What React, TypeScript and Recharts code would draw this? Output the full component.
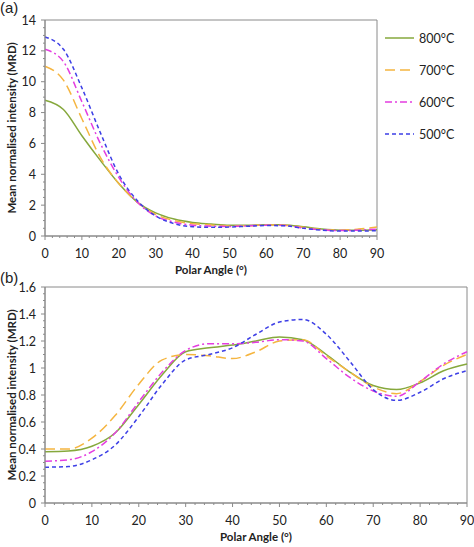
import { LineChart, Line, XAxis, YAxis, Legend, ReferenceArea } from "recharts";

const angles = [0, 5, 10, 15, 20, 25, 30, 35, 40, 45, 50, 55, 60, 65, 70, 75, 80, 85, 90];

// (a) mean normalised intensity, MRD
const a800 = [8.8, 8.2, 6.5, 4.9, 3.4, 2.2, 1.5, 1.1, 0.88, 0.78, 0.7, 0.7, 0.73, 0.72, 0.6, 0.46, 0.38, 0.37, 0.4];
const a700 = [11.0, 10.1, 7.6, 5.1, 3.4, 2.2, 1.4, 1.0, 0.8, 0.72, 0.65, 0.66, 0.72, 0.7, 0.56, 0.42, 0.38, 0.45, 0.58];
const a600 = [12.1, 11.3, 8.7, 6.0, 3.8, 2.2, 1.3, 0.9, 0.7, 0.64, 0.62, 0.66, 0.7, 0.68, 0.52, 0.4, 0.35, 0.38, 0.45];
const a500 = [12.9, 12.1, 9.6, 6.7, 4.0, 2.3, 1.3, 0.8, 0.6, 0.56, 0.58, 0.63, 0.68, 0.66, 0.5, 0.38, 0.32, 0.32, 0.35];

// (b)
const b800 = [0.38, 0.385, 0.42, 0.52, 0.73, 0.95, 1.12, 1.15, 1.17, 1.2, 1.23, 1.21, 1.1, 0.97, 0.87, 0.84, 0.89, 0.98, 1.03];
const b700 = [0.4, 0.4, 0.48, 0.65, 0.88, 1.06, 1.1, 1.09, 1.07, 1.12, 1.2, 1.21, 1.09, 0.97, 0.86, 0.81, 0.9, 1.02, 1.1];
const b600 = [0.31, 0.32, 0.38, 0.52, 0.75, 0.97, 1.13, 1.18, 1.18, 1.19, 1.21, 1.2, 1.07, 0.93, 0.83, 0.79, 0.9, 1.03, 1.12];
const b500 = [0.265, 0.27, 0.32, 0.43, 0.64, 0.88, 1.06, 1.1, 1.15, 1.25, 1.34, 1.36, 1.25, 1.05, 0.84, 0.76, 0.82, 0.92, 0.98];

const xMajor = [0, 10, 20, 30, 40, 50, 60, 70, 80, 90];
const xAll = [
  0, 2, 4, 6, 8, 10, 12, 14, 16, 18, 20, 22, 24, 26, 28, 30, 32, 34, 36, 38, 40, 42, 44, 46,
  48, 50, 52, 54, 56, 58, 60, 62, 64, 66, 68, 70, 72, 74, 76, 78, 80, 82, 84, 86, 88, 90,
];
const yMajorA = [0, 2, 4, 6, 8, 10, 12, 14];
const yAllA = [
  0, 0.5, 1, 1.5, 2, 2.5, 3, 3.5, 4, 4.5, 5, 5.5, 6, 6.5, 7, 7.5, 8, 8.5, 9, 9.5, 10, 10.5, 11,
  11.5, 12, 12.5, 13, 13.5, 14,
];
const yMajorB = [0, 0.2, 0.4, 0.6, 0.8, 1, 1.2, 1.4, 1.6];
const yAllB = [
  0, 0.05, 0.1, 0.15, 0.2, 0.25, 0.3, 0.35, 0.4, 0.45, 0.5, 0.55, 0.6, 0.65, 0.7, 0.75, 0.8,
  0.85, 0.9, 0.95, 1, 1.05, 1.1, 1.15, 1.2, 1.25, 1.3, 1.35, 1.4, 1.45, 1.5, 1.55, 1.6,
];

const seriesNames = ["800°C", "700°C", "600°C", "500°C"];
const colors = ["#86a83c", "#f5b540", "#e43ee0", "#3d3fe6"];
const dashes = ["", "10 5", "7 3 2 3", "4 3"];

const dataA = angles.map((a, i) => ({ angle: a, s800: a800[i], s700: a700[i], s600: a600[i], s500: a500[i] }));
const dataB = angles.map((a, i) => ({ angle: a, s800: b800[i], s700: b700[i], s600: b600[i], s500: b500[i] }));
const keys = ["s800", "s700", "s600", "s500"];

const FONT = "Lato, 'Open Sans', sans-serif";
const AXIS = "#8a8a8a";
const TXT = "#222";

function near(list: number[], v: number) {
  return list.some((m) => Math.abs(m - v) < 1e-6);
}

function makeXTick(major: number[]) {
  return function XTick(props: any) {
    const { x, y, payload } = props;
    const isMajor = near(major, payload.value);
    return (
      <g>
        <line x1={x} x2={x} y1={y} y2={y + (isMajor ? 4 : 2)} stroke={AXIS} strokeWidth={1} />
        {isMajor && (
          <text x={x} y={y + 17} textAnchor="middle" dominantBaseline="central" fontSize={12.5} fill={TXT} fontFamily={FONT}>
            {payload.value}
          </text>
        )}
      </g>
    );
  };
}

function makeYTick(major: number[]) {
  return function YTick(props: any) {
    const { x, y, payload } = props;
    const isMajor = near(major, payload.value);
    return (
      <g>
        <line x1={x} x2={x - (isMajor ? 4 : 2)} y1={y} y2={y} stroke={AXIS} strokeWidth={1} />
        {isMajor && (
          <text x={x - 9} y={y} textAnchor="end" dominantBaseline="central" fontSize={12.5} fill={TXT} fontFamily={FONT}>
            {payload.value}
          </text>
        )}
      </g>
    );
  };
}

function YTitle(props: any) {
  const vb = props.viewBox || {};
  const cx = 11;
  const cy = vb.y + vb.height / 2;
  return (
    <text
      x={cx}
      y={cy}
      transform={`rotate(-90 ${cx} ${cy})`}
      textAnchor="middle"
      dominantBaseline="central"
      fontSize={11.5}
      fontWeight={700}
      fill={TXT}
      fontFamily={FONT}
    >
      Mean normalised intensity (MRD)
    </text>
  );
}

function XTitle(props: any) {
  const vb = props.viewBox || {};
  const cx = vb.x + vb.width / 2;
  return (
    <text x={cx} y={vb.y + 33} textAnchor="middle" dominantBaseline="central" fontSize={11.5} fontWeight={700} fill={TXT} fontFamily={FONT}>
      Polar Angle (°)
    </text>
  );
}

// legend drawn in series order, straight from the series lists
function LegendBox() {
  return (
    <svg width={90} height={120}>
      {seriesNames.map((name, i) => (
        <g key={name}>
          <line x1={2} x2={31} y1={13 + i * 32} y2={13 + i * 32} stroke={colors[i]} strokeWidth={1.5} strokeDasharray={dashes[i]} />
          <text x={36} y={13 + i * 32} dominantBaseline="central" fontSize={12.5} fill={TXT} fontFamily={FONT}>
            {name}
          </text>
        </g>
      ))}
    </svg>
  );
}

function Panel(props: { data: any[]; height: number; top: number; yMax: number; yMajor: number[]; yAll: number[]; legend?: boolean }) {
  const { data, height, top, yMax, yMajor, yAll, legend } = props;
  return (
    <LineChart width={474} height={height} data={data} margin={{ top, right: 7, left: 0, bottom: 0 }}>
      <XAxis
        dataKey="angle"
        type="number"
        domain={[0, 90]}
        ticks={xAll}
        interval={0}
        height={44}
        tickSize={0}
        tickMargin={0}
        tickLine={false}
        axisLine={{ stroke: AXIS }}
        tick={makeXTick(xMajor)}
        label={<XTitle />}
      />
      <YAxis
        type="number"
        domain={[0, yMax]}
        ticks={yAll}
        interval={0}
        width={45}
        tickSize={0}
        tickMargin={0}
        tickLine={false}
        axisLine={{ stroke: AXIS }}
        tick={makeYTick(yMajor)}
        label={<YTitle />}
      />
      <ReferenceArea x1={0} x2={90} y1={0} y2={yMax} fill="none" stroke={AXIS} strokeWidth={1} ifOverflow="visible" />
      {keys.map((k, i) => (
        <Line
          key={k}
          dataKey={k}
          name={seriesNames[i]}
          type="monotone"
          stroke={colors[i]}
          strokeWidth={1.5}
          strokeDasharray={dashes[i] || undefined}
          dot={false}
          isAnimationActive={false}
        />
      ))}
      {legend && (
        <Legend
          layout="vertical"
          verticalAlign="top"
          align="right"
          content={<LegendBox />}
          wrapperStyle={{ position: "absolute", left: 383, top: 25, width: 90 }}
        />
      )}
    </LineChart>
  );
}

export default function App() {
  return (
    <div style={{ position: "absolute", left: 0, top: 0, width: 474, height: 547, background: "#fff", overflow: "hidden" }}>
      <div style={{ position: "absolute", left: 0, top: 0 }}>
        <Panel data={dataA} height={280} top={20} yMax={14} yMajor={yMajorA} yAll={yAllA} legend />
      </div>
      <div style={{ position: "absolute", left: 0, top: 270 }}>
        <Panel data={dataB} height={277} top={17} yMax={1.6} yMajor={yMajorB} yAll={yAllB} />
      </div>
      <div style={{ position: "absolute", left: 0, top: -1, fontFamily: "'Liberation Sans', Arial, sans-serif", fontSize: 15, color: TXT }}>(a)</div>
      <div style={{ position: "absolute", left: 0, top: 269, fontFamily: "'Liberation Sans', Arial, sans-serif", fontSize: 15, color: TXT }}>(b)</div>
    </div>
  );
}
